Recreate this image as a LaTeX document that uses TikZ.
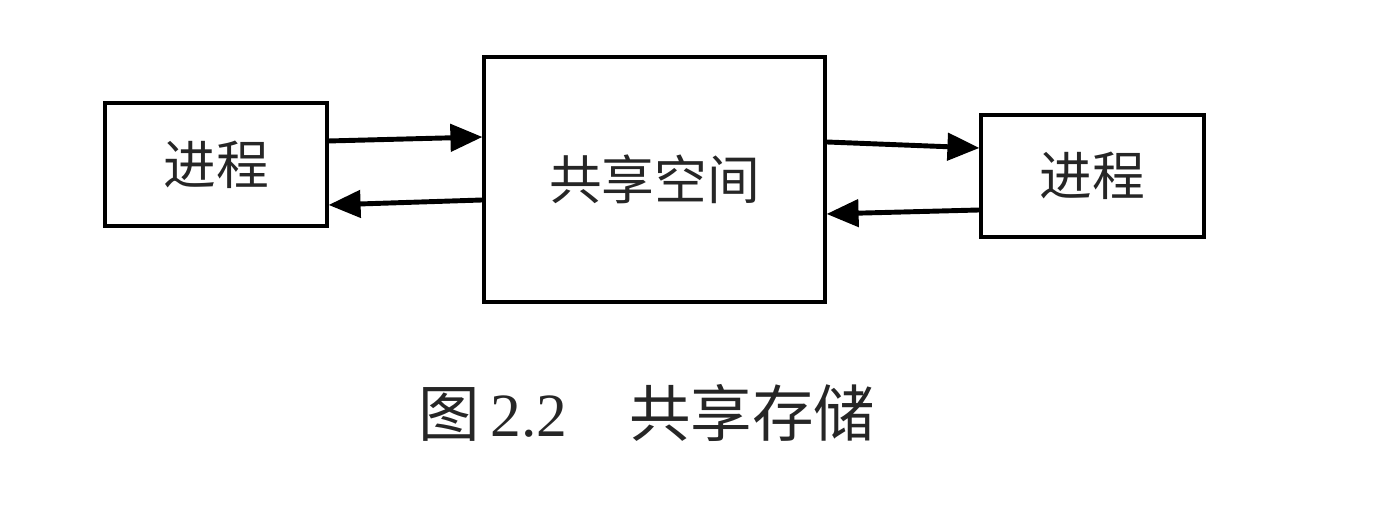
\documentclass[tikz,border=0pt]{standalone}
\usepackage{fontspec}
\setmainfont{Liberation Serif}
\newfontfamily\cjk{Noto Sans CJK SC}[Scale=1]
\usetikzlibrary{arrows.meta}
\tikzset{
  procbox/.style={draw, line width=0.9pt, inner sep=0pt, font=\cjk\fontsize{15}{17}\selectfont, text=black!85},
  flow/.style={line width=1.4pt, -{Triangle[length=0.32cm,width=0.27cm]}}
}
\begin{document}
\begin{tikzpicture}
    \useasboundingbox (0,0) rectangle (13.74,5.12);

    % Processes and shared memory
    \node[procbox, minimum width=2.22cm, minimum height=1.23cm] (lp) at (2.16,3.475) {进程};
    \node[procbox, minimum width=3.41cm, minimum height=2.45cm] (mem) at (6.545,3.325) {共享空间};
    \node[procbox, minimum width=2.23cm, minimum height=1.22cm] (rp) at (10.925,3.36) {进程};

    % Left side
    \draw[flow] ([yshift=0.235cm]lp.east) -- ([yshift=0.425cm]mem.west);
    \draw[flow] ([yshift=-0.205cm]mem.west) -- ([yshift=-0.405cm]lp.east);

    % Right side
    \draw[flow] ([yshift=0.375cm]mem.east) -- ([yshift=0.28cm]rp.west);
    \draw[flow] ([yshift=-0.34cm]rp.west) -- ([yshift=-0.345cm]mem.east);

    % Caption
    \node[font=\fontsize{17.5}{19}\selectfont, text=black!85] (cap) at (6.47,0.99)
        {{\cjk 图}\,2.2\hspace{1em}{\cjk 共享存储}};
\end{tikzpicture}
\end{document}
